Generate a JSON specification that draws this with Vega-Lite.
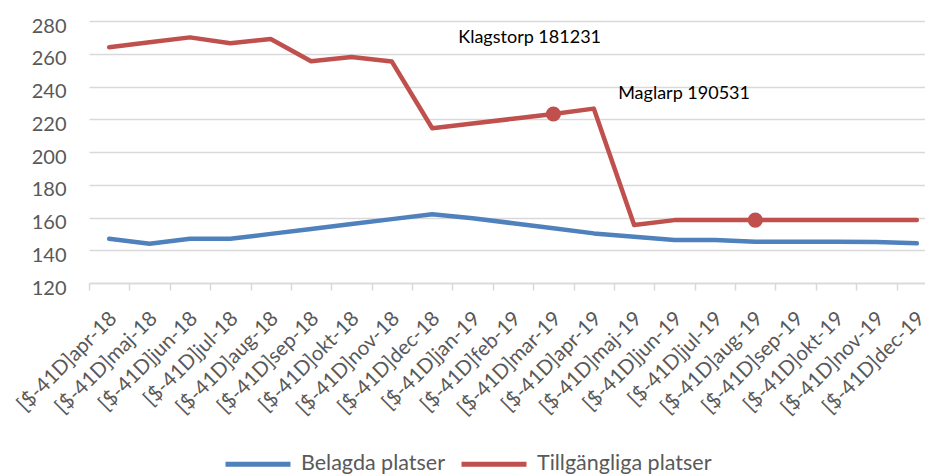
{
  "$schema": "https://vega.github.io/schema/vega-lite/v6.json",
  "width": 836,
  "height": 262,
  "autosize": {"type": "none"},
  "padding": {"left": 89, "top": 21, "right": 0, "bottom": 191},
  "background": "white",
  "config": {
    "font": "Lato",
    "view": {"stroke": null},
    "axis": {"labelFont": "Lato", "labelColor": "#595959"}
  },
  "datasets": {
    "rows": [
      {"month": "apr-18", "serie": "Belagda platser", "antal": 147},
      {"month": "maj-18", "serie": "Belagda platser", "antal": 144},
      {"month": "jun-18", "serie": "Belagda platser", "antal": 147},
      {"month": "jul-18", "serie": "Belagda platser", "antal": 147},
      {"month": "aug-18", "serie": "Belagda platser", "antal": 150},
      {"month": "sep-18", "serie": "Belagda platser", "antal": 153},
      {"month": "okt-18", "serie": "Belagda platser", "antal": 156},
      {"month": "nov-18", "serie": "Belagda platser", "antal": 159},
      {"month": "dec-18", "serie": "Belagda platser", "antal": 162},
      {"month": "jan-19", "serie": "Belagda platser", "antal": 159.5},
      {"month": "feb-19", "serie": "Belagda platser", "antal": 156.5},
      {"month": "mar-19", "serie": "Belagda platser", "antal": 153.5},
      {"month": "apr-19", "serie": "Belagda platser", "antal": 150.3},
      {"month": "maj-19", "serie": "Belagda platser", "antal": 148.3},
      {"month": "jun-19", "serie": "Belagda platser", "antal": 146.3},
      {"month": "jul-19", "serie": "Belagda platser", "antal": 146.2},
      {"month": "aug-19", "serie": "Belagda platser", "antal": 145.2},
      {"month": "sep-19", "serie": "Belagda platser", "antal": 145.2},
      {"month": "okt-19", "serie": "Belagda platser", "antal": 145.2},
      {"month": "nov-19", "serie": "Belagda platser", "antal": 145.1},
      {"month": "dec-19", "serie": "Belagda platser", "antal": 144.2},
      {"month": "apr-18", "serie": "Tillgängliga platser", "antal": 264},
      {"month": "maj-18", "serie": "Tillgängliga platser", "antal": 267},
      {"month": "jun-18", "serie": "Tillgängliga platser", "antal": 270},
      {"month": "jul-18", "serie": "Tillgängliga platser", "antal": 266.4},
      {"month": "aug-18", "serie": "Tillgängliga platser", "antal": 269},
      {"month": "sep-18", "serie": "Tillgängliga platser", "antal": 255.4},
      {"month": "okt-18", "serie": "Tillgängliga platser", "antal": 258},
      {"month": "nov-18", "serie": "Tillgängliga platser", "antal": 255.2},
      {"month": "dec-18", "serie": "Tillgängliga platser", "antal": 214.5},
      {"month": "jan-19", "serie": "Tillgängliga platser", "antal": 217.4},
      {"month": "feb-19", "serie": "Tillgängliga platser", "antal": 220.3},
      {"month": "mar-19", "serie": "Tillgängliga platser", "antal": 223.2, "markerad": true},
      {"month": "apr-19", "serie": "Tillgängliga platser", "antal": 226.5},
      {"month": "maj-19", "serie": "Tillgängliga platser", "antal": 155.4},
      {"month": "jun-19", "serie": "Tillgängliga platser", "antal": 158.4},
      {"month": "jul-19", "serie": "Tillgängliga platser", "antal": 158.4},
      {"month": "aug-19", "serie": "Tillgängliga platser", "antal": 158.4, "markerad": true},
      {"month": "sep-19", "serie": "Tillgängliga platser", "antal": 158.4},
      {"month": "okt-19", "serie": "Tillgängliga platser", "antal": 158.4},
      {"month": "nov-19", "serie": "Tillgängliga platser", "antal": 158.4},
      {"month": "dec-19", "serie": "Tillgängliga platser", "antal": 158.4}
    ],
    "notes": [
      {"month": "dec-18", "antal": 266.6, "text": "Klagstorp 181231"},
      {"month": "maj-19", "antal": 232.4, "text": "Maglarp 190531"}
    ]
  },
  "encoding": {
    "x": {
      "field": "month",
      "type": "nominal",
      "sort": null,
      "scale": {
        "type": "band",
        "domain": ["apr-18","maj-18","jun-18","jul-18","aug-18","sep-18","okt-18","nov-18","dec-18","jan-19","feb-19","mar-19","apr-19","maj-19","jun-19","jul-19","aug-19","sep-19","okt-19","nov-19","dec-19"],
        "paddingInner": 0,
        "paddingOuter": 0,
        "range": [0, 848]
      },
      "axis": {
        "title": null,
        "labelExpr": "datum.label ? '[$-41D]' + datum.label : ''",
        "labelAngle": -45,
        "labelAlign": "right",
        "labelBaseline": "middle",
        "labelFontSize": 20.5,
        "labelPadding": 25,
        "labelOffset": 4,
        "labelLimit": 300,
        "tickBand": "extent",
        "tickSize": 7,
        "tickColor": "#D9D9D9",
        "tickWidth": 1.5,
        "domainColor": "#D9D9D9",
        "domainWidth": 1.5,
        "grid": false,
        "labelOverlap": false
      }
    },
    "y": {
      "field": "antal",
      "type": "quantitative",
      "scale": {"domain": [120, 280], "nice": false, "zero": false},
      "axis": {
        "title": null,
        "values": [120, 140, 160, 180, 200, 220, 240, 260, 280],
        "domain": false,
        "ticks": false,
        "grid": true,
        "gridColor": "#D9D9D9",
        "gridWidth": 1.5,
        "labelFontSize": 20,
        "labelPadding": 23,
        "labelOffset": 5
      }
    }
  },
  "layer": [
    {
      "data": {"name": "rows"},
      "mark": {"type": "line", "strokeWidth": 4.5, "strokeJoin": "round", "strokeCap": "round"},
      "encoding": {
        "color": {
          "field": "serie",
          "type": "nominal",
          "scale": {"domain": ["Belagda platser", "Tillgängliga platser"], "range": ["#4F81BD", "#C0504D"]},
          "legend": {
            "title": null,
            "orient": "none",
            "direction": "horizontal",
            "legendX": 134,
            "legendY": 408,
            "symbolType": "stroke",
            "symbolSize": 4225,
            "symbolStrokeWidth": 5,
            "labelFontSize": 21.5,
            "labelColor": "#595959",
            "labelFont": "Lato",
            "labelOffset": 8,
            "labelLimit": 300,
            "columnPadding": 6
          }
        }
      }
    },
    {
      "data": {"name": "rows"},
      "transform": [{"filter": "datum.markerad === true"}],
      "mark": {"type": "point", "filled": true, "shape": "circle", "size": 230, "color": "#C0504D", "opacity": 1}
    },
    {
      "data": {"name": "notes"},
      "transform": [{"filter": "datum.month === 'dec-18'"}],
      "mark": {"type": "text", "align": "left", "baseline": "alphabetic", "dx": 26, "fontSize": 18, "font": "Lato", "color": "#000000"},
      "encoding": {"text": {"field": "text"}}
    },
    {
      "data": {"name": "notes"},
      "transform": [{"filter": "datum.month === 'maj-19'"}],
      "mark": {"type": "text", "align": "left", "baseline": "alphabetic", "dx": -16, "fontSize": 18, "font": "Lato", "color": "#000000"},
      "encoding": {"text": {"field": "text"}}
    }
  ]
}
